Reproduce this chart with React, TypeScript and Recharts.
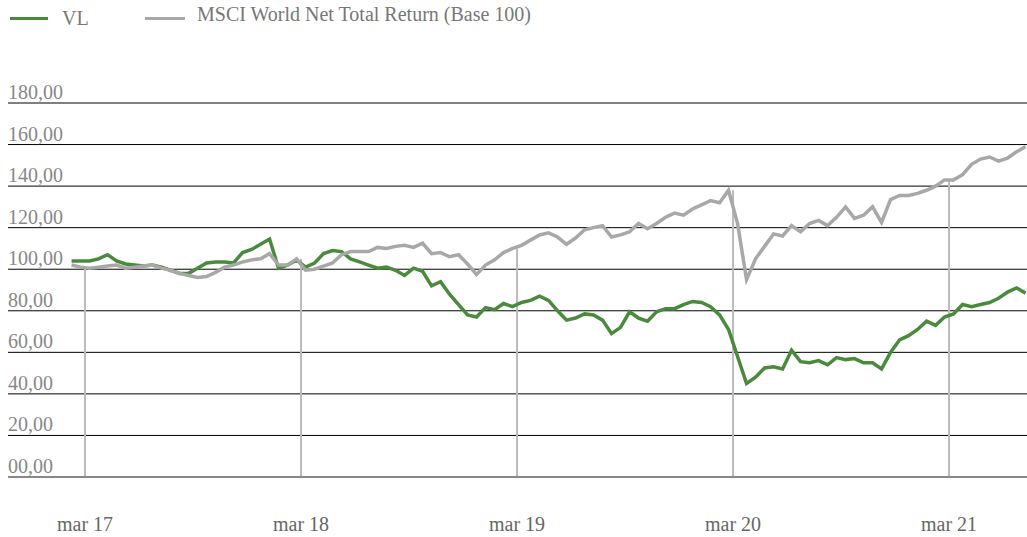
import { LineChart, Line, XAxis, YAxis, CartesianGrid, ReferenceLine } from 'recharts';

// semi-monthly readings, first point ~ early Feb 2017
const vl = [
  104, 104, 104, 105, 107, 104, 102.5, 102, 101.5, 102, 101, 99.5, 98, 98, 100.5, 103, 103.5, 103.5, 103, 108,
  109.5, 112, 114.5, 100.5, 102, 104.5, 101, 103, 107.5, 109, 108.5, 105, 103.5, 102, 100.5, 101, 99.5, 97, 100.5, 99,
  92, 94, 88, 83, 78, 77, 81.5, 80.5, 83.5, 82, 84, 85, 87, 85, 80, 75.5, 76.5, 78.5, 78, 75.5,
  69, 72, 79.5, 76.5, 75, 79.5, 81, 81, 83, 84.5, 84, 82, 78, 71, 58, 45, 48, 52.5, 53, 52,
  61, 55.5, 55, 56, 54, 57.5, 56.5, 57, 55, 55, 52, 60, 66, 68, 71, 75, 73, 77, 78.5, 83,
  82, 83, 84, 86, 89, 91, 88.5,
];
const msci = [
  102, 101, 100.5, 101, 101.5, 102, 100.5, 101, 101.5, 102, 100.5, 99.5, 98, 97, 96, 96.5, 98.5, 101, 102, 103.5,
  104.5, 105, 107.5, 102, 102, 105, 99.5, 100, 101.5, 103, 107, 108.5, 108.5, 108.5, 110.5, 110, 111, 111.5, 110.5, 112.5,
  107.5, 108, 106, 107, 102.5, 97.5, 102, 104.5, 108, 110, 111.5, 114, 116.5, 117.5, 115.5, 112, 115, 119, 120, 121,
  115.5, 116.5, 118, 122, 119.5, 122, 125, 127, 126, 129, 131, 133, 132, 138, 122, 95, 105, 111, 117, 116,
  121, 118, 122, 123.5, 121, 125, 130, 124.5, 126, 130, 122.5, 133.5, 135.5, 135.5, 136.5, 138, 140, 143, 143, 145.5,
  150.5, 153, 154, 152, 153.5, 156.5, 159,
];
// months since Jan 2017
const tickMonths = [2, 14, 26, 38, 50];
const tickLabels = ['mar 17', 'mar 18', 'mar 19', 'mar 20', 'mar 21'];
const yTicks = [0, 20, 40, 60, 80, 100, 120, 140, 160, 180];

const data = vl.map((v, i) => ({ m: 1.25 + i * 0.5, vl: v, msci: msci[i] }));

const msciAt = (m: number) => {
  let best = data[0];
  data.forEach((d) => {
    if (Math.abs(d.m - m) < Math.abs(best.m - m)) best = d;
  });
  return best.msci;
};

const fmt = (v: number) => (v < 100 ? String(v).padStart(2, '0') : String(v)) + ',00';

const font = '"Liberation Serif", serif';

export default function App() {
  return (
    <div style={{ position: 'absolute', left: 0, top: 0, width: 1027, height: 537, background: '#fff', fontFamily: font }}>
      <div style={{ position: 'absolute', left: 10, top: 17, width: 38, height: 3, background: '#4a8a3c' }} />
      <div style={{ position: 'absolute', left: 62, top: 7, fontSize: 20, color: '#777' }}>VL</div>
      <div style={{ position: 'absolute', left: 145, top: 17, width: 40, height: 3, background: '#a8a8a8' }} />
      <div style={{ position: 'absolute', left: 197, top: 3, fontSize: 20, color: '#777' }}>
        MSCI World Net Total Return (Base 100)
      </div>
      <div style={{ position: 'absolute', left: 0, top: 0 }}>
        <LineChart width={1027} height={537} data={data} margin={{ top: 103, right: 0, bottom: 0, left: 8 }}>
          <CartesianGrid vertical={false} stroke="#000" strokeWidth={1} />
          <XAxis
            dataKey="m"
            type="number"
            domain={[-2.28, 54.33]}
            ticks={tickMonths}
            height={60}
            axisLine={{ stroke: '#888', strokeWidth: 2 }}
            tickLine={false}
            tick={(p: any) => (
              <text x={p.x} y={p.y + 46} textAnchor="middle" fontSize={20} fill="#666" fontFamily={font}>
                {tickLabels[tickMonths.indexOf(p.payload.value)]}
              </text>
            )}
          />
          <YAxis
            domain={[0, 180]}
            ticks={yTicks}
            interval={0}
            mirror
            axisLine={false}
            tickLine={false}
            tick={(p: any) => (
              <text x={8} y={p.y - 4} textAnchor="start" fontSize={20} fill="#888" fontFamily={font}>
                {fmt(p.payload.value)}
              </text>
            )}
          />
          {tickMonths.map((m) => (
            <ReferenceLine
              key={m}
              segment={[{ x: m, y: 0 }, { x: m, y: msciAt(m) }]}
              stroke="#bbb"
              strokeWidth={2}
            />
          ))}
          <Line dataKey="vl" stroke="#4a8a3c" strokeWidth={3.5} dot={false} isAnimationActive={false} />
          <Line dataKey="msci" stroke="#a8a8a8" strokeWidth={3.5} dot={false} isAnimationActive={false} />
        </LineChart>
      </div>
    </div>
  );
}
